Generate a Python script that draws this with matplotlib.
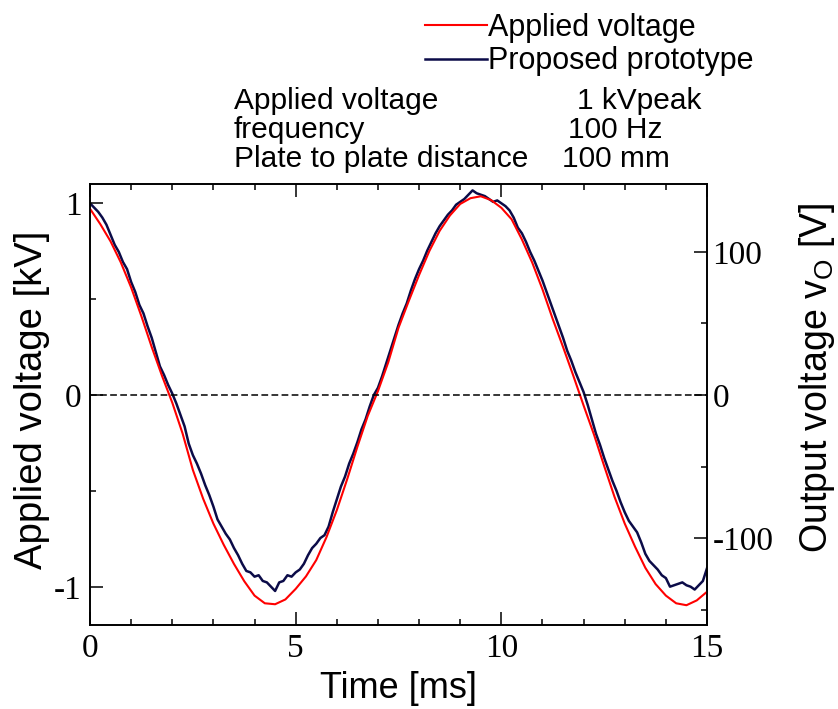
import matplotlib
matplotlib.use("Agg")
import matplotlib.pyplot as plt
import numpy as np

plt.rcParams['mathtext.fontset'] = 'custom'
plt.rcParams['mathtext.rm'] = 'Liberation Sans'

# applied voltage [kV], read every 0.25 ms
t_applied = np.arange(0, 15.01, 0.25)
v_applied = [0.97, 0.89, 0.80, 0.69, 0.56, 0.41, 0.25, 0.10, -0.04, -0.20,
             -0.39, -0.54, -0.67, -0.78, -0.88, -0.97, -1.045, -1.085, -1.09, -1.065,
             -1.01, -0.945, -0.86, -0.74, -0.60, -0.44, -0.27, -0.11, 0.02, 0.17,
             0.35, 0.49, 0.625, 0.75, 0.855, 0.935, 0.995, 1.025, 1.035, 1.015,
             0.975, 0.915, 0.81, 0.69, 0.55, 0.395, 0.25, 0.10, -0.055, -0.205,
             -0.37, -0.53, -0.67, -0.79, -0.90, -0.985, -1.045, -1.085, -1.095, -1.07,
             -1.025]

# prototype output voltage [V], read every 0.1 ms
t_proto = np.arange(0, 15.001, 0.1)
v_proto = [134, 131, 128, 124, 119, 112, 105, 100, 93, 88,
           79, 72, 63, 57, 48, 40, 30, 20, 14, 7,
           1, -6, -14, -22, -34, -42, -48, -55, -63, -70,
           -78, -87, -92, -97, -101, -107, -112, -118, -123, -124,
           -127, -126, -130, -131, -134, -137, -131, -130, -126, -127,
           -124, -122, -118, -112, -107, -104, -100, -98, -92, -82,
           -73, -64, -57, -48, -41, -33, -24, -17, -8, 0,
           5, 13, 22, 31, 40, 49, 57, 64, 73, 81,
           88, 94, 101, 107, 113, 118, 122, 126, 129, 133,
           135, 137, 140, 143, 141, 140, 139, 137, 135, 136,
           134, 132, 129, 124, 117, 113, 107, 100, 94, 87,
           80, 72, 64, 56, 48, 40, 31, 24, 16, 9,
           2, -7, -17, -27, -35, -44, -52, -60, -67, -75,
           -82, -88, -92, -96, -103, -111, -116, -119, -122, -126,
           -128, -134, -133, -132, -131, -133, -134, -136, -133, -130,
           -121]

info_names = ['Applied voltage', 'frequency', 'Plate to plate distance']
info_values = ['1 kVpeak', '100 Hz', '100 mm']

red = '#ff0000'
navy = '#0b0b48'
serif = 'Liberation Serif'
sans = 'Liberation Sans'

fig = plt.figure(figsize=(8.38, 7.09), dpi=100)
ax = fig.add_axes([0.1074, 0.1185, 0.7363, 0.622])
ax2 = ax.twinx()
# keep the red trace above the navy one
ax.set_zorder(ax2.get_zorder() + 1)
ax.patch.set_visible(False)

ax2.plot(t_proto, v_proto, color=navy, lw=1.8, label='Proposed prototype')
ax.plot(t_applied, v_applied, color=red, lw=1.5, label='Applied voltage')
ax.axhline(0, color='k', lw=1.1, ls=(0, (4.4, 2.2)))

ax.set_xlim(0, 15)
ax.set_ylim(-1.198, 1.099)
ax2.set_ylim(-1.198 * 134.2, 1.099 * 134.2)

ax.set_xticks([0, 5, 10, 15])
ax.set_xticks(np.arange(0, 16, 1), minor=True)
ax.set_yticks([-1, 0, 1])
ax.set_yticklabels(['-1', '0', '1'])
ax.set_yticks([-0.5, 0.5], minor=True)
ax2.set_yticks([-100, 0, 100])
ax2.set_yticklabels(['-100', '0', '100'])
ax2.set_yticks([-150, -50, 50], minor=True)

for a in (ax, ax2):
    a.tick_params(which='major', direction='in', length=9.5, width=1.1, labelsize=24)
    a.tick_params(which='minor', direction='in', length=4.5, width=1.1)
    for lab in a.get_xticklabels() + a.get_yticklabels():
        lab.set_family(serif)
    for sp in a.spines.values():
        sp.set_linewidth(1.2)
ax.tick_params(which='both', top=True, right=False)
ax.tick_params(axis='y', pad=6)
ax.tick_params(axis='x', pad=6)
ax2.tick_params(axis='y', pad=4)

ax.set_xlabel('Time [ms]', fontsize=26, family=sans, va='center')
ax.xaxis.set_label_coords(0.5, -0.143)
ax.set_ylabel('Applied voltage [kV]', fontsize=27.5, family=sans, va='center')
ax.yaxis.set_label_coords(-0.094, 0.51)
ax2.set_ylabel(r'Output voltage v$_{\rm O}$ [V]', fontsize=27, family=sans,
               va='center', rotation=90)
ax2.yaxis.set_label_coords(1.178, 0.56)

h1, l1 = ax.get_legend_handles_labels()
h2, l2 = ax2.get_legend_handles_labels()
fig.legend(h1 + h2, l1 + l2, loc='upper left', bbox_to_anchor=(0.507, 0.982),
           frameon=False, prop={'family': sans, 'size': 22},
           handlelength=2.03, handletextpad=0.03, labelspacing=0.12,
           borderpad=0, borderaxespad=0)

# measurement conditions
info_x = [577, 568, 562]
for i, (name, val) in enumerate(zip(info_names, info_values)):
    y = 1 - (109 + 29 * i) / 709
    fig.text(234 / 838, y, name, fontsize=21.5, family=sans, va='baseline')
    fig.text(info_x[i] / 838, y, val, fontsize=21.5, family=sans, va='baseline')

fig.savefig('out.png', dpi=100)
